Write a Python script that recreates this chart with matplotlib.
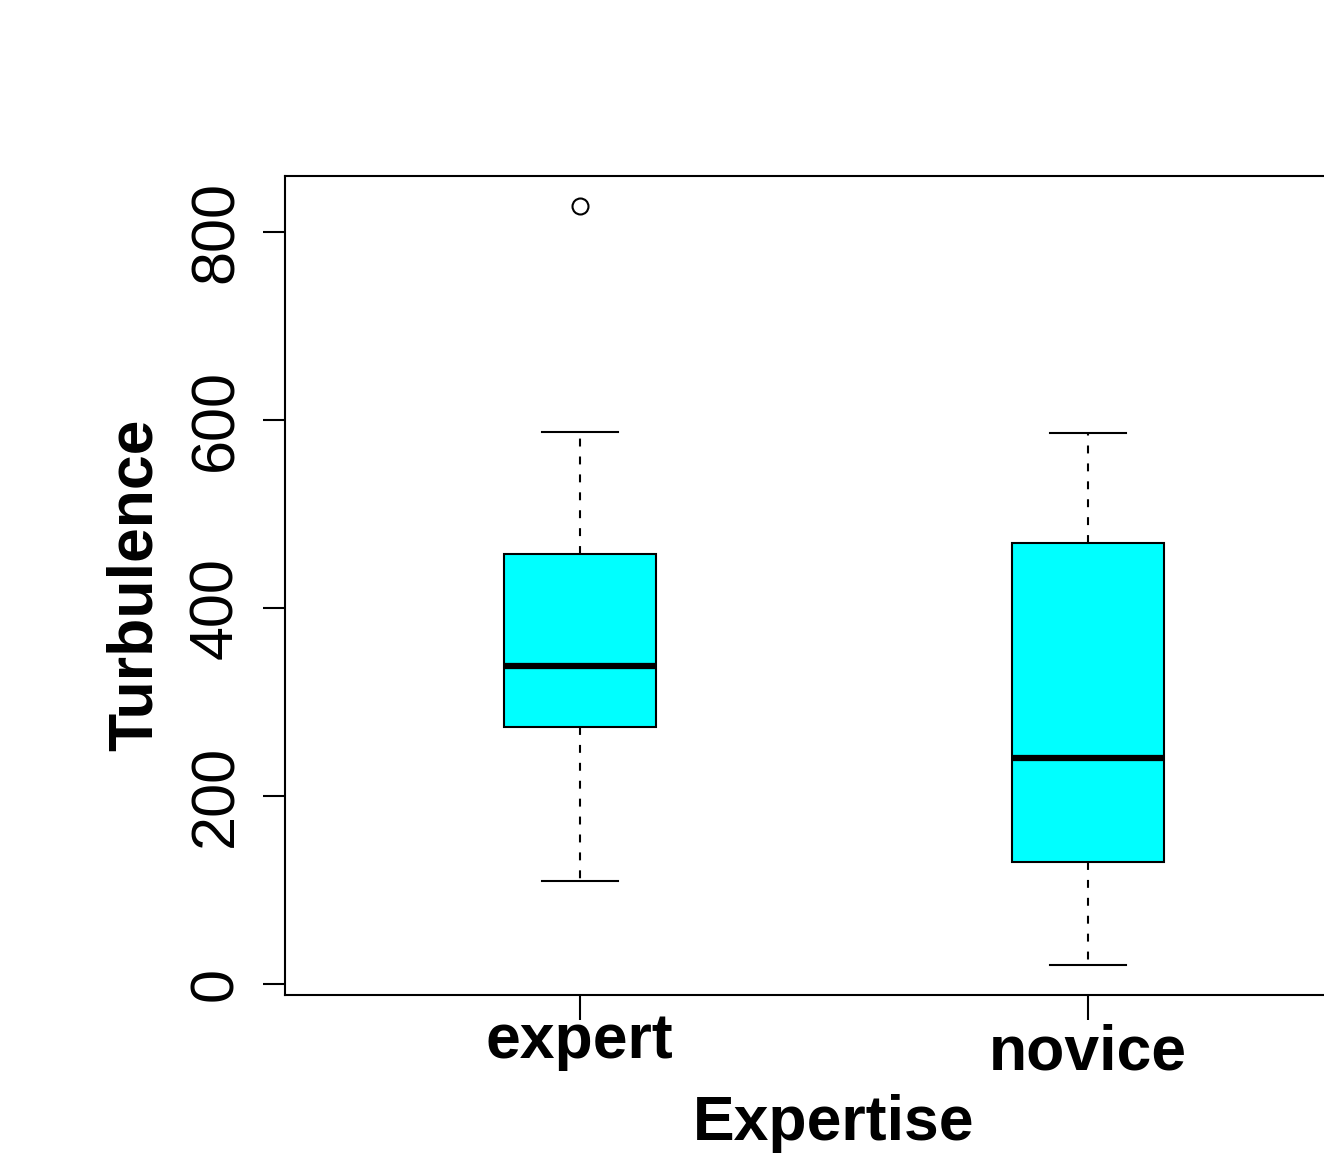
import matplotlib
matplotlib.use("Agg")
import matplotlib.pyplot as plt
import matplotlib.transforms as mtransforms

plt.rcParams["font.family"] = ["Liberation Sans", "DejaVu Sans"]

# box statistics
groups = ["expert", "novice"]
whisker_low = [110, 21]
q1 = [274, 130]
median = [338, 241]
q3 = [458, 469]
whisker_high = [587, 586]
outliers = [[827], []]

y_ticks = [0, 200, 400, 600, 800]

W, H = 1324, 1157
fig = plt.figure(figsize=(W / 100, H / 100), dpi=100)
# right edge of the plot region lies past the image edge, like the source
ax = fig.add_axes([285 / W, 1 - 995 / H, (1382.6 - 285) / W, (995 - 176) / H])

stats = []
for i, name in enumerate(groups):
    stats.append(dict(label=name, whislo=whisker_low[i], q1=q1[i], med=median[i],
                      q3=q3[i], whishi=whisker_high[i], fliers=outliers[i]))

ax.bxp(stats, positions=[1, 2], widths=0.3, capwidths=0.15, patch_artist=True,
       boxprops=dict(facecolor="#00ffff", edgecolor="black", linewidth=1.5),
       medianprops=dict(color="black", linewidth=4.5, solid_capstyle="butt"),
       whiskerprops=dict(color="black", linewidth=1.5, linestyle=(0, (3.8, 4.8))),
       capprops=dict(color="black", linewidth=1.5),
       flierprops=dict(marker="o", markersize=11.5, markerfacecolor="none",
                       markeredgecolor="black", markeredgewidth=1.5))

lo = min(min(whisker_low), min(min(o) for o in outliers if o))
hi = max(max(whisker_high), max(max(o) for o in outliers if o))
rng = hi - lo
ax.set_xlim(0.42, 2.58)
ax.set_ylim(lo - 0.04 * rng, hi + 0.04 * rng)

for s in ax.spines.values():
    s.set_linewidth(1.5)

ax.set_yticks(y_ticks)
ax.set_yticklabels([str(t) for t in y_ticks], rotation=90, va="center", fontsize=44)
ax.tick_params(axis="y", length=16, width=1.5, pad=12.5)
ax.set_xticks([1, 2])
ax.set_xticklabels([])
ax.tick_params(axis="x", length=18, width=1.5)

trans = mtransforms.blended_transform_factory(ax.transData, fig.transFigure)
label_base = [1058, 1070]
for i, name in enumerate(groups):
    ax.text(i + 1, 1 - label_base[i] / H, name, transform=trans, ha="center",
            va="baseline", fontsize=45, fontweight="bold", clip_on=False)

fig.text(834 / W, 1 - 1140 / H, "Expertise", ha="center", va="baseline",
         fontsize=45, fontweight="bold")
fig.text(152 / W, 1 - 585 / H, "Turbulence", ha="center", va="baseline",
         rotation=90, rotation_mode="anchor", fontsize=45, fontweight="bold")

fig.savefig("out.png", dpi=100)
